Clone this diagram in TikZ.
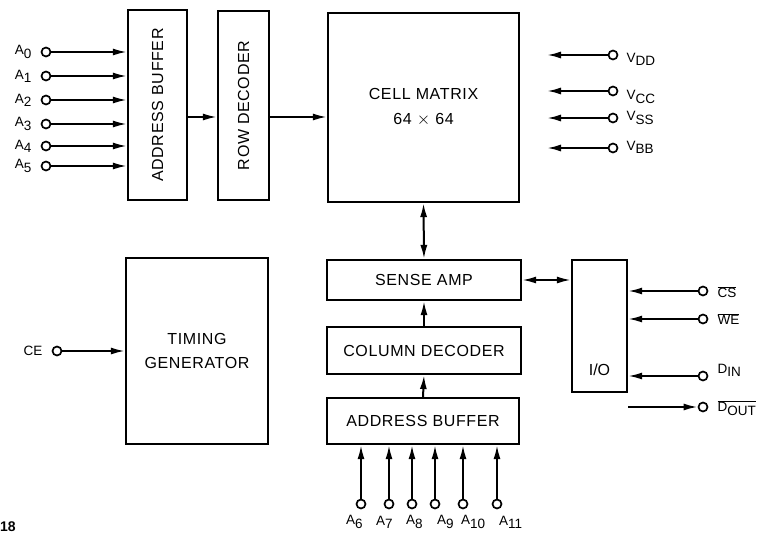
\documentclass[tikz,border=0pt]{standalone}
\usepackage{fontspec}
\setmainfont{Liberation Sans}
\usetikzlibrary{arrows.meta}

\newcommand{\lowsub}[1]{\raisebox{-0.45ex}{#1}}

\tikzset{
  block/.style={draw, line width=2.1pt, inner sep=0pt, align=center,
    font=\fontsize{16}{19}\selectfont\addfontfeatures{LetterSpace=4}},
  pin/.style={draw, circle, line width=1.7pt, minimum size=9pt, inner sep=0pt, fill=white},
  sig/.style={line width=2pt, -{Latex[length=14pt,width=7pt]}},
  bisig/.style={line width=2pt, {Latex[length=14pt,width=7pt]}-{Latex[length=14pt,width=7pt]}},
  lbl/.style={font=\fontsize{13.5}{15}\selectfont, inner sep=0pt}
}

\begin{document}
\begin{tikzpicture}[x=1pt,y=-1pt]
  \useasboundingbox (0,0) rectangle (764,533);

  % blocks
  \node[block, minimum width=59pt, minimum height=190pt] (abuf) at (157.5,105) {\rotatebox{90}{ADDRESS BUFFER}};
  \node[block, minimum width=51pt, minimum height=189pt] (rowdec) at (243.5,105.5) {\rotatebox{90}{ROW DECODER}};
  \node[block, minimum width=191pt, minimum height=189pt] (cell) at (423.5,107.5) {CELL MATRIX\\[6pt]64 $\times$ 64};
  \node[block, minimum width=194pt, minimum height=40pt] (sense) at (424,280) {SENSE AMP};
  \node[block, minimum width=194pt, minimum height=47pt] (coldec) at (424,350.5) {COLUMN DECODER};
  \node[block, minimum width=192pt, minimum height=46pt] (cbuf) at (423,421) {ADDRESS BUFFER};
  \node[block, minimum width=142pt, minimum height=186pt] (timing) at (197,351) {TIMING\\[5pt]GENERATOR};
  \node[block, minimum width=55pt, minimum height=132pt] (io) at (599.5,326) {};
  \node[font=\fontsize{16}{19}\selectfont] (iotext) at (599.5,370) {I/O};

  % row address inputs
  \foreach \i/\y in {0/52,1/76,2/100,3/124,4/146,5/166}{
    \node[pin] (a\i) at (46,\y) {};
    \node[lbl, anchor=east] at ([xshift=-9pt]a\i.west) {A\lowsub{\i}};
    \draw[sig] (a\i) -- (a\i -| abuf.west);
  }

  \coordinate (rowin) at (0,117);
  \draw[sig] (abuf.east |- rowin) -- (rowdec.west |- rowin);
  \draw[sig] (rowdec.east |- rowin) -- (cell.west |- rowin);

  % supplies
  \foreach \n/\t/\y/\dy in {vdd/DD/55/-4,vcc/CC/91/-6,vss/SS/118/0,vbb/BB/148/1}{
    \node[pin] (\n) at (613,\y) {};
    \coordinate (\n end) at (547,\y);
    \node[lbl, anchor=west] at ([xshift=8pt,yshift=\dy pt]\n.east) {V\lowsub{\t}};
    \draw[sig] (\n) -- (\n end);
  }

  % column path
  \draw[bisig] (cell.south) -- (sense.north);
  \draw[sig] (coldec.north) -- (sense.south);
  \draw[sig] (cbuf.north) -- (coldec.south);
  \draw[bisig] (sense.east) -- (sense.east -| io.west);

  % column address inputs
  \foreach \i/\x/\lx in {6/361/346,7/389/376,8/412/406,9/435/437,10/463/461,11/497/499}{
    \node[pin] (a\i) at (\x,504) {};
    \node[lbl, anchor=west] at (\lx,522) {A\lowsub{\i}};
    \draw[sig] (a\i) -- (a\i |- cbuf.south);
  }

  % chip enable
  \node[pin] (ce) at (57,351) {};
  \node[lbl, anchor=east] at ([xshift=-9pt]ce.west) {CE};
  \draw[sig] (ce) -- (ce -| timing.west);

  % I/O controls
  \node[pin] (cs) at (703,291) {};
  \node[lbl, anchor=west] at ([xshift=9pt,yshift=-1pt]cs.east) {$\overline{\mbox{CS}}$};
  \draw[sig] (cs) -- (cs -| io.east);
  \node[pin] (we) at (703,319) {};
  \node[lbl, anchor=west] at ([xshift=9pt,yshift=0pt]we.east) {$\overline{\mbox{WE}}$};
  \draw[sig] (we) -- (we -| io.east);
  \node[pin] (din) at (703,376) {};
  \node[lbl, anchor=west] at ([xshift=9pt,yshift=6pt]din.east) {D\lowsub{IN}};
  \draw[sig] (din) -- (din -| io.east);
  \node[pin] (dout) at (703,407) {};
  \node[lbl, anchor=west] at ([xshift=9pt,yshift=-1pt]dout.east) {$\overline{\mbox{D\lowsub{OUT}}}$};
  \draw[sig] (dout -| io.east) -- (dout);

  % page number
  \node[anchor=base west, inner sep=0pt, font=\bfseries\fontsize{14}{16}\selectfont] (page) at (0,531) {18};
\end{tikzpicture}
\end{document}
